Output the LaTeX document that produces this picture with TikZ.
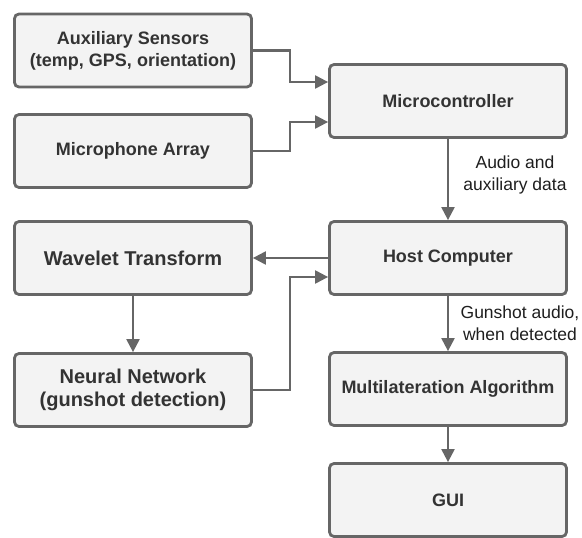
\documentclass[tikz,border=0pt]{standalone}
\usepackage{fontspec}
\setmainfont{Liberation Sans}
\usetikzlibrary{arrows.meta}
\definecolor{edge}{HTML}{666666}
\definecolor{boxfill}{HTML}{F3F3F3}
\definecolor{boxtext}{HTML}{333333}
\definecolor{labtext}{HTML}{1E1E1E}
\begin{document}
\begin{tikzpicture}[x=1pt,y=1pt,
  blk/.style={draw=edge, fill=boxfill, line width=2.8pt, rounded corners=4.5pt,
    minimum width=237pt, minimum height=73pt, align=center, text=boxtext,
    font=\fontsize{18}{22}\selectfont\bfseries, inner sep=0pt},
  bigblk/.style={blk, font=\fontsize{20}{23}\selectfont\bfseries},
  arr/.style={draw=edge, line width=2.2pt, -{Triangle[length=13pt,width=13pt]}},
  lab/.style={align=center, text=labtext, font=\fontsize{17.5}{22.5}\selectfont, inner sep=0pt}]
\useasboundingbox (0,0) rectangle (582,-538);
\node[blk] (aux) at (133,-50.5) {Auxiliary Sensors\\(temp, GPS, orientation)};
\node[blk] (mic) at (133,-151) {Microphone Array};
\node[blk] (micro) at (448,-101) {Microcontroller};
\node[blk] (host) at (448,-258) {Host Computer};
\node[bigblk] (wave) at (133,-258) {Wavelet Transform};
\node[bigblk] (nn) at (133,-390) {Neural Network\\(gunshot detection)};
\node[blk] (multi) at (448,-389) {Multilateration Algorithm};
\node[blk] (gui) at (448,-500) {GUI};
\draw[arr] (aux.east) -- ++(37,0) |- ([yshift=19pt]micro.west);
\draw[arr] (mic.east) -- ++(37,0) |- ([yshift=-21pt]micro.west);
\draw[arr] (micro.south) -- (host.north);
\draw[arr] (host.west) -- (wave.east);
\draw[arr] (wave.south) -- (nn.north);
\draw[arr] (nn.east) -- ++(37,0) |- ([yshift=-19pt]host.west);
\draw[arr] (host.south) -- (multi.north);
\draw[arr] (multi.south) -- (gui.north);
\node[lab] (l1) at (515,-175) {Audio and\\auxiliary data};
\node[lab] (l2) at (520,-323) {Gunshot audio,\\when detected};
\end{tikzpicture}
\end{document}
